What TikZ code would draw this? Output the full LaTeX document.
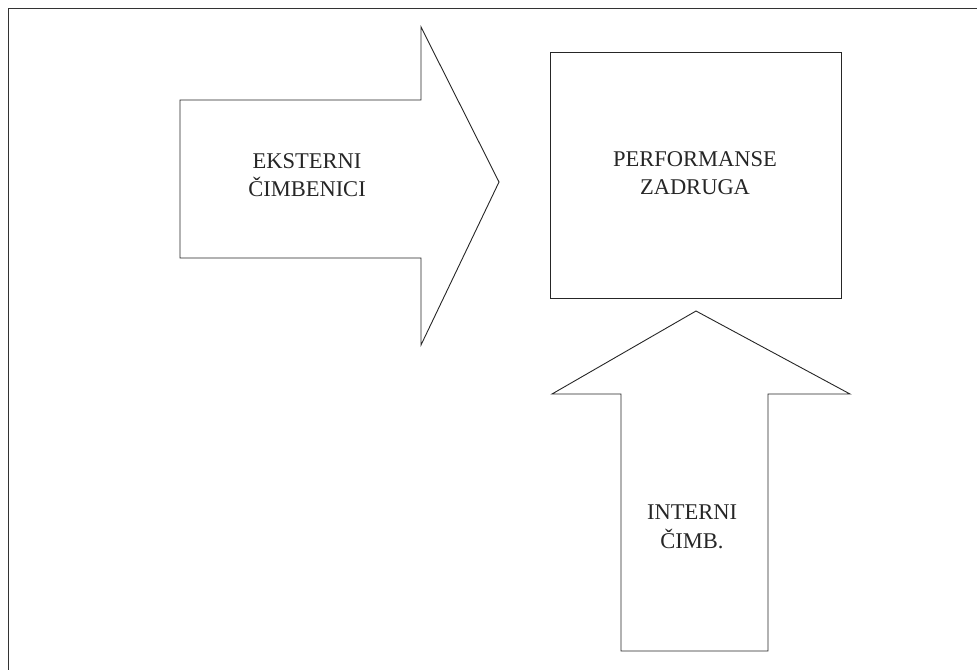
\documentclass[tikz,border=0pt]{standalone}
\usepackage{fontspec}
\setmainfont{Liberation Serif}
\usetikzlibrary{positioning}

\begin{document}
\begin{tikzpicture}[
    x=1pt, y=-1pt,
    shapeline/.style={draw=black!85, line width=0.9pt, line join=miter},
    frameline/.style={draw=black!80, line width=1.8pt},
    label/.style={font=\fontsize{22.5}{28.5}\selectfont, align=center, text=black!85, inner sep=0pt}
]
\useasboundingbox (0,0) rectangle (977,670);

% Frame (top and left only)
\draw[frameline] (977,8.5) -- (8.5,8.5) -- (8.5,670);

% External arrow
\draw[shapeline] (180,100) -- (421,100) -- (421,27) -- (499,182) -- (421,345)
    -- (421,258) -- (180,258) -- cycle;

% Performance box
\node[shapeline, minimum width=291pt, minimum height=246pt, anchor=north west] (perf) at (550,52) {};

% Internal arrow
\draw[shapeline] (621,651) -- (621,394) -- (552,394) -- (696,311) -- (850,394)
    -- (768,394) -- (768,651) -- cycle;

% Labels
\node[label] (ext) at (307,175) {EKSTERNI\\ČIMBENICI};
\node[label] (perftext) at (695,173) {PERFORMANSE\\ZADRUGA};
\node[label] (int) at (692,527) {INTERNI\\ČIMB.};

\end{tikzpicture}
\end{document}
